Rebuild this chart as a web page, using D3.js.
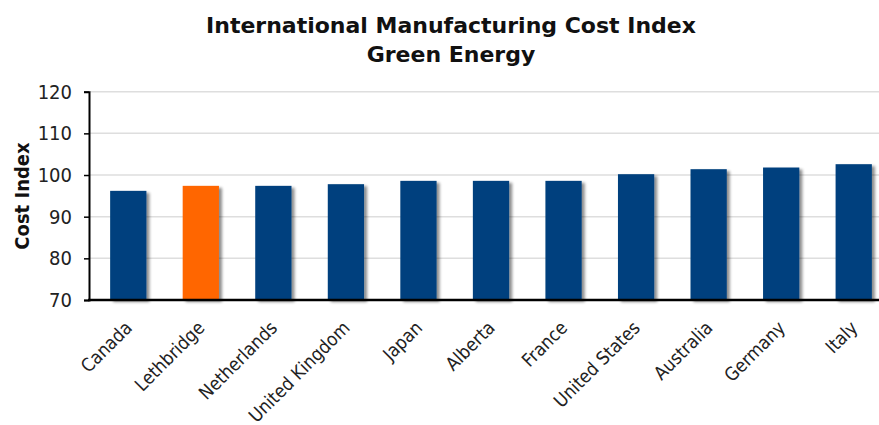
<!DOCTYPE html>
<html><head><meta charset="utf-8">
<script src="https://cdn.jsdelivr.net/npm/d3@7"></script>
<style>body{margin:0;background:#fff}svg{display:block}</style>
</head><body>
<svg id="c" width="879" height="425"></svg>
<script>
const categories = ["Canada","Lethbridge","Netherlands","United Kingdom","Japan","Alberta","France","United States","Australia","Germany","Italy"];
const values = [96.2, 97.4, 97.4, 97.8, 98.6, 98.6, 98.6, 100.2, 101.4, 101.8, 102.6];
const highlight = ["Lethbridge"];
const yTicks = [70, 80, 90, 100, 110, 120];
const titleLines = ["International Manufacturing Cost Index", "Green Energy"];
const yTitle = "Cost Index";

const svg = d3.select("#c");
const cfont = "'DejaVu Sans Condensed', 'DejaVu Sans', sans-serif";
const x = d3.scaleBand().domain(categories).range([92, 890]).paddingInner(0.5).paddingOuter(0.25);
const y = d3.scaleLinear().domain([70, 120]).range([300, 91.7]);

const defs = svg.append("defs");
const f = defs.append("filter").attr("id","sh").attr("x","-20%").attr("y","-20%").attr("width","150%").attr("height","140%");
f.append("feGaussianBlur").attr("in","SourceAlpha").attr("stdDeviation",1.5).attr("result","b");
f.append("feOffset").attr("in","b").attr("dx",3).attr("dy",2).attr("result","o");
f.append("feComponentTransfer").attr("in","o").attr("result","o2").append("feFuncA").attr("type","linear").attr("slope",0.45);
const m = f.append("feMerge"); m.append("feMergeNode").attr("in","o2"); m.append("feMergeNode").attr("in","SourceGraphic");

// grid
svg.append("g").selectAll("line").data(yTicks.filter(d=>d>70)).join("line")
  .attr("x1", 90).attr("x2", 879).attr("y1", d=>y(d)).attr("y2", d=>y(d))
  .attr("stroke", "#dedede").attr("stroke-width", 1.5);

// bars
svg.append("g").selectAll("rect").data(categories).join("rect")
  .attr("x", d=>x(d)).attr("width", x.bandwidth())
  .attr("y", (d,i)=>y(values[i])).attr("height", (d,i)=>y(70)-y(values[i]))
  .attr("fill", d=>highlight.includes(d) ? "#ff6600" : "#00417e")
  .attr("filter", "url(#sh)");

// y axis
const ya = svg.append("g").attr("transform","translate(89,0)")
  .call(d3.axisLeft(y).tickValues(yTicks).tickSize(5).tickPadding(12).tickFormat(d3.format("d")));
ya.select(".domain").attr("stroke","#000").attr("stroke-width",2);
ya.selectAll(".tick line").attr("stroke","#000").attr("stroke-width",1.5);
ya.selectAll("text").attr("font-family",cfont).attr("font-size",20).attr("fill","#222");

// x axis
const xa = svg.append("g").attr("transform","translate(0,300)")
  .call(d3.axisBottom(x).tickSize(0).tickPadding(0));
xa.select(".domain").remove();
svg.append("line").attr("x1",88).attr("x2",879).attr("y1",300).attr("y2",300).attr("stroke","#000").attr("stroke-width",2.5);
xa.selectAll(".tick text")
  .attr("font-family",cfont).attr("font-size",18.5).attr("fill","#222")
  .attr("text-anchor","end").attr("dy",0).attr("y",0)
  .attr("transform","translate(5,29) rotate(-45)");

// y title
svg.append("text").attr("transform","translate(29,196) rotate(-90)")
  .attr("text-anchor","middle").attr("font-family",cfont).attr("font-weight","bold")
  .attr("font-size",20).attr("fill","#111").text(yTitle);

// title
svg.append("g").selectAll("text").data(titleLines).join("text")
  .attr("x", 451).attr("y", (d,i)=>33 + i*29)
  .attr("text-anchor","middle").attr("font-family","'DejaVu Sans',sans-serif")
  .attr("font-weight","bold").attr("font-size",22).attr("fill","#111").text(d=>d);
</script>
</body></html>
